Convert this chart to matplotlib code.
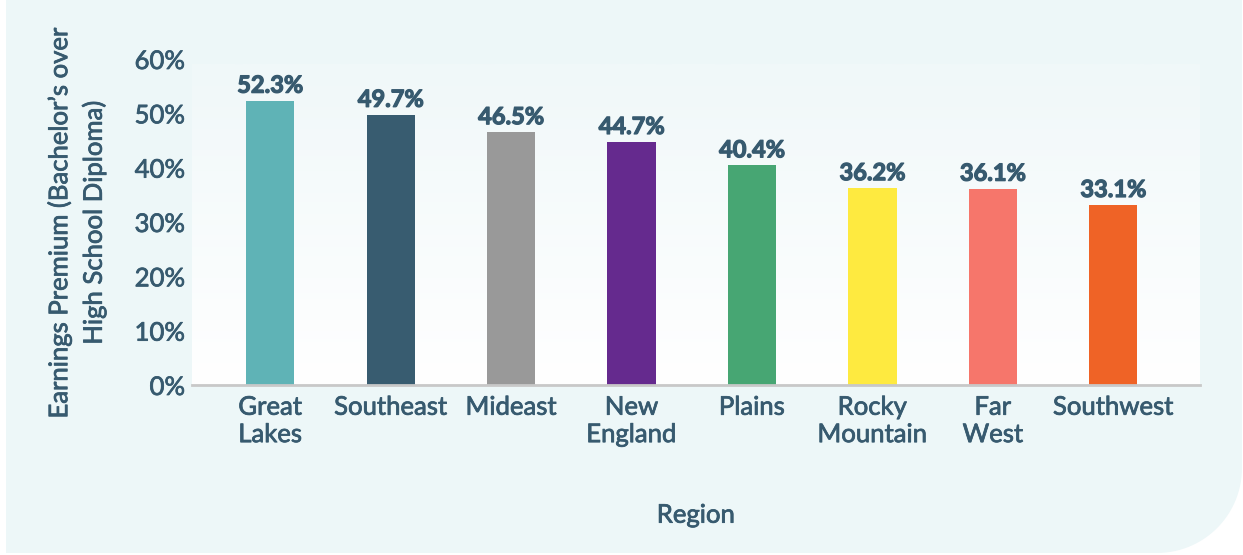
import matplotlib
matplotlib.use("Agg")
import matplotlib.pyplot as plt
import matplotlib.patheffects as pe
import numpy as np
from matplotlib.path import Path
from matplotlib.patches import PathPatch
from matplotlib.colors import LinearSegmentedColormap
from matplotlib.ticker import PercentFormatter

regions = ["Great\nLakes", "Southeast", "Mideast", "New\nEngland", "Plains",
           "Rocky\nMountain", "Far\nWest", "Southwest"]
premium = [52.3, 49.7, 46.5, 44.7, 40.4, 36.2, 36.1, 33.1]
bar_colors = ["#5fb3b6", "#385c70", "#999999", "#652a8e", "#47a673",
              "#feea40", "#f6766b", "#ef6326"]
yticks = [0, 10, 20, 30, 40, 50, 60]

TEXT = "#375a6f"
PANEL = "#edf7f8"
FS = 18.5
# Lato has no semibold here, so thicken the regular weight a little
semi = [pe.withStroke(linewidth=0.55, foreground=TEXT)]
heavy = [pe.withStroke(linewidth=0.9, foreground=TEXT)]

plt.rcParams["font.family"] = ["Lato", "DejaVu Sans"]

W, H = 1243, 555
fig = plt.figure(figsize=(W / 100, H / 100), dpi=100)
fig.patch.set_facecolor("white")

# mint panel with rounded bottom-right corner (pixel coords -> figure fraction)
r = 85
x0, x1, y_top, y_bot = 6, 1242, -5, 553
cx, cy = x1 - r, y_bot - r
ang = np.linspace(0, np.pi / 2, 30)
arc = [(cx + r * np.cos(a), cy + r * np.sin(a)) for a in ang]
pts = [(x0, y_top), (x1, y_top)] + arc + [(x0, y_bot), (x0, y_top)]
pts = [(px / W, 1 - py / H) for px, py in pts]
fig.patches.append(PathPatch(Path(pts), transform=fig.transFigure,
                             facecolor=PANEL, edgecolor="none", zorder=-5))

left, right, top, bottom = 192, 1200, 59, 385
ax = fig.add_axes([left / W, 1 - bottom / H, (right - left) / W, (bottom - top) / H])
ax.set_facecolor("none")

xs = np.arange(len(regions))
ax.set_xlim(-0.65, 7.72)

# background gradient of the plot area
cmap = LinearSegmentedColormap.from_list("bg", ["#ffffff", "#f0f8f9"])
grad = np.linspace(0, 1, 256).reshape(-1, 1)
ax.imshow(grad, cmap=cmap, aspect="auto", origin="lower",
          extent=(-0.65, 7.72, 0, 58.9), zorder=0)
ax.set_ylim(0, 60)

bars = ax.bar(xs, premium, width=0.4, color=bar_colors, zorder=2)
for b, v in zip(bars, premium):
    ax.annotate(f"{v:.1f}%", (b.get_x() + b.get_width() / 2, v),
                xytext=(0, 3), textcoords="offset points",
                ha="center", va="bottom", fontsize=17,
                fontweight="bold", color=TEXT, path_effects=heavy)

ax.set_xticks(xs)
ax.set_xticklabels(regions, fontsize=FS, color=TEXT, linespacing=1.12,
                   path_effects=semi)
ax.set_yticks(yticks)
ax.yaxis.set_major_formatter(PercentFormatter(decimals=0))
for lab in ax.get_yticklabels():
    lab.set_fontsize(FS)
    lab.set_color(TEXT)
    lab.set_path_effects(semi)
ax.tick_params(axis="both", length=0)
ax.tick_params(axis="x", pad=7)
ax.tick_params(axis="y", pad=5)

for s in ["top", "right", "left"]:
    ax.spines[s].set_visible(False)
ax.spines["bottom"].set_color("#c8c8c8")
ax.spines["bottom"].set_linewidth(2)
ax.spines["bottom"].set_zorder(3)

ax.set_xlabel("Region", fontsize=FS, color=TEXT, labelpad=40, path_effects=semi)
ax.set_ylabel("Earnings Premium (Bachelor\u2019s over\nHigh School Diploma)",
              fontsize=FS, color=TEXT, labelpad=20, linespacing=1.4,
              path_effects=semi)

fig.savefig("out.png", dpi=100, facecolor=fig.get_facecolor())
